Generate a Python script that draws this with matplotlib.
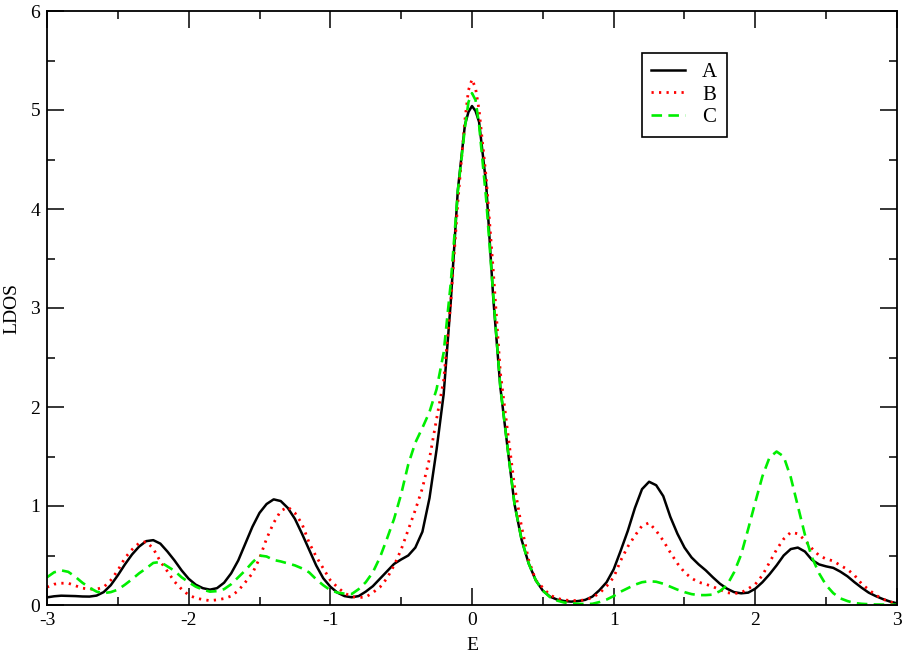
import matplotlib
matplotlib.use("Agg")
import matplotlib.pyplot as plt
from matplotlib.ticker import MultipleLocator

plt.rcParams['font.family'] = ['Liberation Serif', 'DejaVu Serif']
plt.rcParams['axes.unicode_minus'] = False

E = [-3.00, -2.95, -2.90, -2.85, -2.80, -2.75, -2.70, -2.65, -2.60, -2.55,
     -2.50, -2.45, -2.40, -2.35, -2.30, -2.25, -2.20, -2.15, -2.10, -2.05,
     -2.00, -1.95, -1.90, -1.85, -1.80, -1.75, -1.70, -1.65, -1.60, -1.55,
     -1.50, -1.45, -1.40, -1.35, -1.30, -1.25, -1.20, -1.15, -1.10, -1.05,
     -1.00, -0.95, -0.90, -0.85, -0.80, -0.75, -0.70, -0.65, -0.60, -0.55,
     -0.50, -0.45, -0.40, -0.35, -0.30, -0.25, -0.20, -0.15, -0.10, -0.05,
     -0.025, 0.00, 0.025,
     0.05, 0.10, 0.15, 0.20, 0.25, 0.30, 0.35, 0.40, 0.45, 0.50,
     0.55, 0.60, 0.65, 0.70, 0.75, 0.80, 0.85, 0.90, 0.95, 1.00,
     1.05, 1.10, 1.15, 1.20, 1.25, 1.30, 1.35, 1.40, 1.45, 1.50,
     1.55, 1.60, 1.65, 1.70, 1.75, 1.80, 1.85, 1.90, 1.95, 2.00,
     2.05, 2.10, 2.15, 2.20, 2.25, 2.30, 2.35, 2.40, 2.45, 2.50,
     2.55, 2.60, 2.65, 2.70, 2.75, 2.80, 2.85, 2.90, 2.95, 3.00]

ldos_A = [0.077, 0.088, 0.094, 0.092, 0.090, 0.086, 0.085, 0.095, 0.13, 0.20,
          0.30, 0.41, 0.51, 0.59, 0.645, 0.655, 0.62, 0.54, 0.45, 0.35,
          0.265, 0.205, 0.17, 0.155, 0.17, 0.225, 0.32, 0.45, 0.62, 0.79,
          0.93, 1.02, 1.067, 1.05, 0.98, 0.87, 0.72, 0.56, 0.40, 0.27,
          0.185, 0.125, 0.09, 0.078, 0.09, 0.135, 0.19, 0.265, 0.34, 0.415,
          0.46, 0.50, 0.58, 0.74, 1.08, 1.57, 2.13, 3.06, 4.19, 4.85,
          4.98, 5.04, 4.99,
          4.88, 4.25, 3.10, 2.20, 1.60, 1.02, 0.66, 0.42, 0.25, 0.145,
          0.085, 0.055, 0.040, 0.034, 0.040, 0.052, 0.085, 0.15, 0.23, 0.36,
          0.55, 0.75, 0.98, 1.17, 1.245, 1.21, 1.10, 0.89, 0.72, 0.58,
          0.48, 0.41, 0.35, 0.28, 0.215, 0.165, 0.13, 0.118, 0.125, 0.165,
          0.23, 0.31, 0.40, 0.50, 0.565, 0.58, 0.54, 0.455, 0.41, 0.39,
          0.375, 0.337, 0.29, 0.23, 0.175, 0.125, 0.09, 0.06, 0.035, 0.017]

ldos_B = [0.18, 0.21, 0.22, 0.22, 0.195, 0.17, 0.16, 0.16, 0.18, 0.25,
          0.35, 0.475, 0.56, 0.625, 0.64, 0.57, 0.44, 0.34, 0.236, 0.16,
          0.10, 0.07, 0.055, 0.044, 0.052, 0.065, 0.09, 0.145, 0.23, 0.32,
          0.47, 0.67, 0.83, 0.95, 0.99, 0.93, 0.82, 0.63, 0.49, 0.37,
          0.25, 0.18, 0.12, 0.085, 0.075, 0.08, 0.125, 0.18, 0.27, 0.40,
          0.56, 0.76, 0.96, 1.18, 1.48, 1.88, 2.27, 3.05, 4.07, 4.90,
          5.20, 5.31, 5.22,
          5.00, 4.32, 3.38, 2.35, 1.77, 1.20, 0.79, 0.455, 0.25, 0.175,
          0.10, 0.068, 0.05, 0.046, 0.044, 0.052, 0.075, 0.12, 0.19, 0.28,
          0.45, 0.59, 0.70, 0.80, 0.83, 0.75, 0.65, 0.53, 0.42, 0.33,
          0.27, 0.23, 0.21, 0.185, 0.155, 0.125, 0.115, 0.125, 0.165, 0.21,
          0.30, 0.43, 0.56, 0.667, 0.734, 0.72, 0.655, 0.57, 0.50, 0.465,
          0.445, 0.40, 0.36, 0.30, 0.215, 0.155, 0.10, 0.06, 0.03, 0.017]

ldos_C = [0.28, 0.33, 0.35, 0.335, 0.285, 0.225, 0.175, 0.135, 0.12, 0.13,
          0.155, 0.205, 0.26, 0.32, 0.37, 0.425, 0.435, 0.39, 0.345, 0.28,
          0.23, 0.185, 0.155, 0.135, 0.14, 0.16, 0.21, 0.28, 0.35, 0.43,
          0.50, 0.49, 0.455, 0.44, 0.42, 0.40, 0.37, 0.33, 0.26, 0.20,
          0.15, 0.125, 0.115, 0.11, 0.16, 0.23, 0.33, 0.48, 0.67, 0.87,
          1.12, 1.42, 1.64, 1.79, 1.95, 2.18, 2.55, 3.25, 4.18, 4.82,
          5.08, 5.17, 5.10,
          4.85, 4.10, 3.13, 2.20, 1.60, 1.02, 0.66, 0.42, 0.25, 0.145,
          0.08, 0.045, 0.025, 0.017, 0.012, 0.010, 0.012, 0.03, 0.055, 0.09,
          0.135, 0.17, 0.205, 0.23, 0.24, 0.235, 0.215, 0.185, 0.155, 0.13,
          0.11, 0.10, 0.10, 0.105, 0.14, 0.20, 0.33, 0.51, 0.77, 1.04,
          1.30, 1.49, 1.55, 1.50, 1.29, 1.00, 0.71, 0.48, 0.32, 0.20,
          0.12, 0.067, 0.04, 0.02, 0.012, 0.008, 0.005, 0.004, 0.003, 0.003]

labels = ['A', 'B', 'C']

fig = plt.figure(figsize=(9.04, 6.57), dpi=100)
ax = fig.add_axes([47 / 904, 1 - 605 / 657, 850 / 904, 594 / 657])

ax.plot(E, ldos_A, color='black', lw=1.8, label=labels[0])
ax.plot(E, ldos_B, color='red', lw=2.0, linestyle=(0, (0.8, 1.9)), label=labels[1])
ax.plot(E, ldos_C, color='#00ee00', lw=1.9, linestyle=(0, (4.0, 2.4)), label=labels[2])

ax.set_xlim(-3, 3)
ax.set_ylim(0, 6)
ax.xaxis.set_major_locator(MultipleLocator(1))
ax.xaxis.set_minor_locator(MultipleLocator(0.5))
ax.yaxis.set_major_locator(MultipleLocator(1))
ax.yaxis.set_minor_locator(MultipleLocator(0.5))
ax.tick_params(which='both', direction='in', top=True, right=True, labelsize=14, width=1.1)
ax.tick_params(which='major', length=12, pad=5)
ax.tick_params(which='minor', length=6)
for s in ax.spines.values():
    s.set_linewidth(1.3)

ax.set_xlabel('E', fontsize=14, labelpad=6)
ax.set_ylabel('LDOS', fontsize=14, labelpad=7)

leg = ax.legend(loc='upper left', bbox_to_anchor=(641.7 / 904, 1 - 53 / 657),
                bbox_transform=fig.transFigure, borderaxespad=0,
                fancybox=False, edgecolor='black', framealpha=1,
                fontsize=15, handlelength=1.65, handletextpad=0.8,
                labelspacing=0.15, borderpad=0.45)
leg.get_frame().set_linewidth(1.2)

fig.savefig('out.png', dpi=100)
